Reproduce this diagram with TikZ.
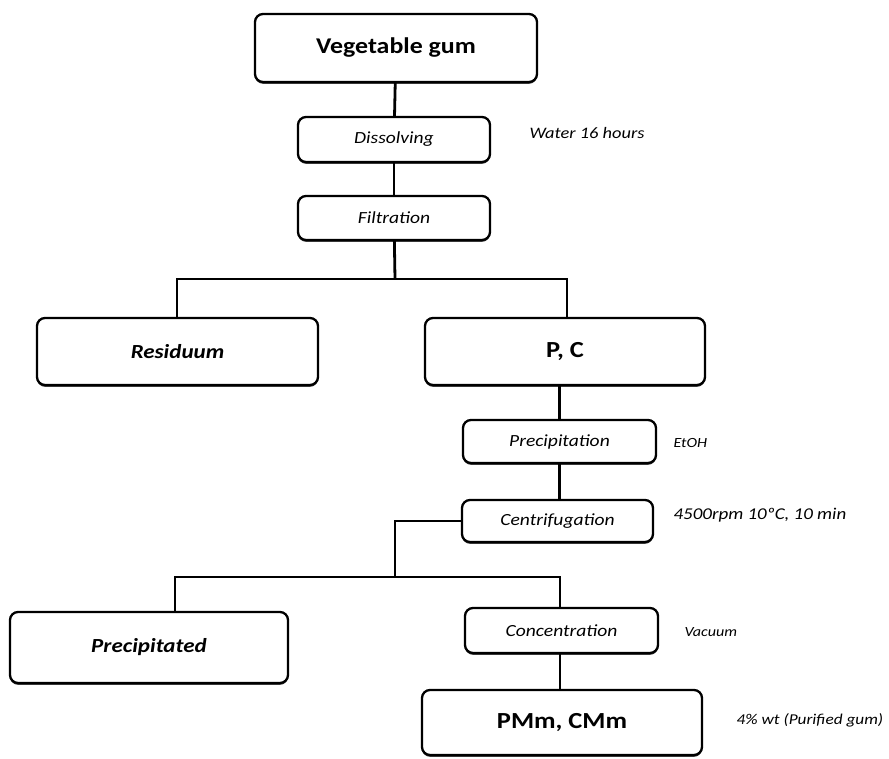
\documentclass[tikz,border=0pt]{standalone}
\usepackage{fontspec}
\setmainfont[FakeStretch=1.15]{Carlito}
\usetikzlibrary{positioning,shadows}

\tikzset{
  box/.style={draw, line width=2.3pt, rounded corners=8pt, fill=white,
    drop shadow={shadow xshift=0pt, shadow yshift=-1.8pt, fill=black!75, opacity=1}},
  stepbox/.style={box, minimum width=192pt, minimum height=44pt, font=\itshape\fontsize{17}{20}\selectfont},
  bigbox/.style={box, minimum width=280pt, minimum height=67pt},
  note/.style={anchor=west, font=\itshape\fontsize{16}{19}\selectfont},
  link/.style={line width=2.8pt}
}

\begin{document}
\begin{tikzpicture}[x=1pt, y=-1pt]
    \useasboundingbox (0,0) rectangle (889,758);
    %Top of the chain
    \node[bigbox, minimum width=282pt, minimum height=68pt, font=\bfseries\fontsize{22.5}{26}\selectfont] (veg) at (396,48) {Vegetable gum};
    \node[stepbox, minimum height=45pt] (diss) at (394,139.5) {Dissolving};
    \node[note] (water) at (526,133) {Water 16 hours};
    \node[stepbox] (filt) at (394,218) {Filtration};
    %First split
    \node[bigbox, minimum width=281pt, font=\bfseries\itshape\fontsize{20}{24}\selectfont] (res) at (177.5,351.5) {Residuum};
    \node[bigbox, font=\bfseries\fontsize{23}{27}\selectfont] (pc) at (565,351.5) {P, C};
    \node[stepbox, minimum width=193pt, minimum height=43pt] (prec) at (559.5,441.5) {Precipitation};
    \node[note, font=\itshape\fontsize{14}{16}\selectfont] (etoh) at (670,443) {EtOH};
    \node[stepbox, minimum width=191pt, minimum height=42pt] (cent) at (557.5,521) {Centrifugation};
    \node[note, font=\itshape\fontsize{16.5}{19}\selectfont] (rpm) at (670,515) {4500rpm 10ºC, 10 min};
    %Second split
    \node[bigbox, minimum width=278pt, minimum height=71pt, font=\bfseries\itshape\fontsize{20}{24}\selectfont] (ppt) at (149,647.5) {Precipitated};
    \node[stepbox, minimum width=193pt, minimum height=45pt] (conc) at (561.5,630.5) {Concentration};
    \node[note, font=\itshape\fontsize{14}{16}\selectfont] (vac) at (681,632) {Vacuum};
    \node[bigbox, minimum height=65pt, font=\bfseries\fontsize{23}{27}\selectfont] (pmm) at (562,722.5) {PMm, CMm};
    \node[note, font=\itshape\fontsize{15}{18}\selectfont] (wt) at (733,720) {4\% wt (Purified gum)};

    \coordinate (split1) at (395,279);
    \coordinate (split2) at (395,577);
    \draw[link] (veg) -- (diss);
    \draw[link] (diss) -- (filt);
    \draw[link] (filt) -- (split1);
    \draw[link] ([xshift=-0.5pt]res.north) |- (split1) -| ([xshift=2pt]pc.north);
    \draw[link] (prec.north) -- (prec.north |- pc.south);
    \draw[link] (prec.south) -- (prec.south |- cent.north);
    \draw[link] (cent.west) -| (split2);
    \draw[link] ([xshift=26pt]ppt.north) |- (split2) -| ([xshift=-1.5pt]conc.north);
    \draw[link] ([xshift=-1.5pt]conc.south) -- ([xshift=-1.5pt]conc.south |- pmm.north);
\end{tikzpicture}
\end{document}
